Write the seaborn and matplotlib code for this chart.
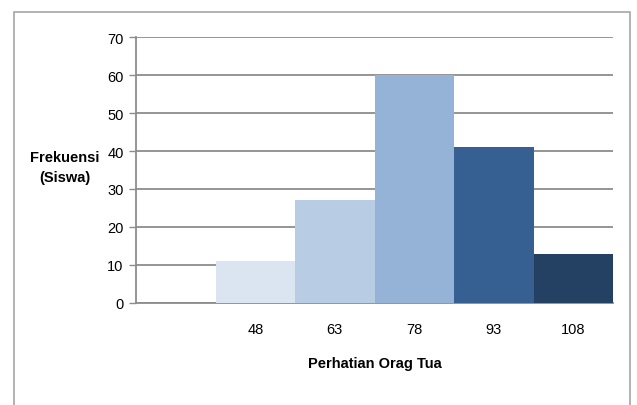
import numpy as np
import pandas as pd
import seaborn as sns
import matplotlib.pyplot as plt

# frequency table: first class is empty
kelas = ["", "48", "63", "78", "93", "108"]
frekuensi = [0, 11, 27, 60, 41, 13]
warna = ["#FFFFFF", "#DBE5F1", "#B8CCE4", "#95B3D7", "#366092", "#244062"]
y_ticks = [0, 10, 20, 30, 40, 50, 60, 70]

df = pd.DataFrame({"kelas": kelas, "frekuensi": frekuensi})

sns.set_theme(style="white")
plt.rcParams['font.family'] = ['Liberation Sans Narrow', 'Liberation Sans', 'DejaVu Sans']
plt.rcParams['text.color'] = 'black'
plt.rcParams['xtick.color'] = 'black'
plt.rcParams['ytick.color'] = 'black'

fig = plt.figure(figsize=(6.37, 4.06), dpi=100)
ax = fig.add_axes([136/637, 1 - 304/406, (613 - 136)/637, (304 - 38)/406])

sns.barplot(data=df, x="kelas", y="frekuensi", hue="kelas", palette=warna,
            saturation=1, legend=False, width=1.0, ax=ax, zorder=3, linewidth=0)

grid_c = "#8C8C8C"
ax.set_ylim(0, 70)
ax.set_xlim(-0.5, len(kelas) - 0.5)
ax.set_yticks(y_ticks)
ax.set_yticklabels([str(v) for v in y_ticks], fontsize=10.5)
ax.yaxis.grid(True, color=grid_c, linewidth=1.3, zorder=0)
ax.set_axisbelow(True)

# tick marks between classes, labels at class centres
ax.set_xticks(np.arange(-0.5, len(kelas), 1.0))
ax.set_xticklabels([])
ax.set_xticks(np.arange(len(kelas)), minor=True)
ax.set_xticklabels(kelas, minor=True, fontsize=10.5)
ax.tick_params(axis="x", which="major", direction="out", length=5, color=grid_c, width=1)
ax.tick_params(axis="x", which="minor", length=0, pad=14)
ax.tick_params(axis="y", which="major", direction="out", length=5, color=grid_c,
               labelcolor="black", width=1, pad=4, left=True)

for s in ["top", "right"]:
    ax.spines[s].set_visible(False)
for s in ["left", "bottom"]:
    ax.spines[s].set_color(grid_c)
    ax.spines[s].set_linewidth(1.3)

ax.set_xlabel("Perhatian Orag Tua", fontsize=10.5, fontweight="bold", labelpad=14,
              color="black")
ax.set_ylabel("")
fig.text(65/637, 1 - 168/406, "Frekuensi\n(Siswa)", ha="center", va="center",
         fontsize=10.5, fontweight="bold", linespacing=1.6)

# outer chart frame
fig.add_artist(plt.Rectangle((14/637, -0.05), (630 - 14)/637, 1.05 - 13/406,
                             transform=fig.transFigure, fill=False,
                             edgecolor="#A6A6A6", linewidth=1.2))

fig.savefig("out.png", dpi=100)
